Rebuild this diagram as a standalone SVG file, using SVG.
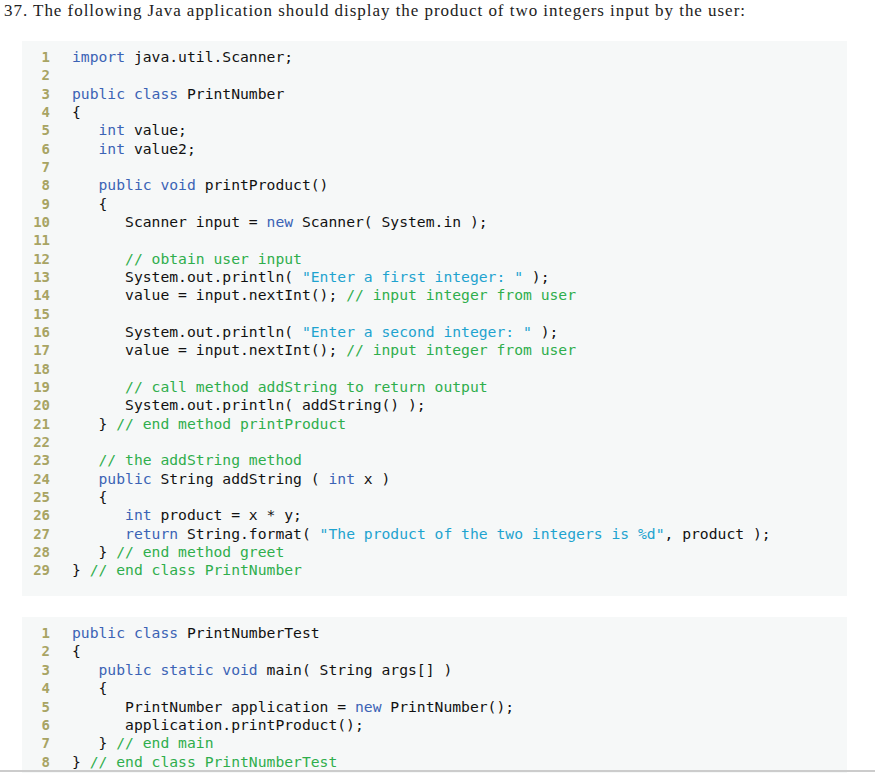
<svg xmlns="http://www.w3.org/2000/svg" width="875" height="773" viewBox="0 0 875 773">
<style>
.t{font-family:"Liberation Serif",serif;font-size:17px;fill:#222}
.c{font-family:"DejaVu Sans Mono","Liberation Mono",monospace;font-size:14.7px;fill:#111;white-space:pre}
.n{font-family:"DejaVu Sans Mono",monospace;font-size:14px;font-weight:bold;fill:#a8a464;text-anchor:end}
.k{fill:#3b63b5}.s{fill:#1ea3cf}.m{fill:#2fae4c}
</style>
<rect width="875" height="773" fill="#fff"/>
<text class="t" x="4" y="16" textLength="741" lengthAdjust="spacing">37.  The following Java application should display the product of two integers input by the user:</text>
<rect x="22" y="41" width="825" height="555" fill="#f6f8f8"/>
<rect x="22" y="617" width="825" height="156" fill="#f6f8f8"/>
<line x1="0" y1="771" x2="875" y2="771" stroke="#ccc" stroke-width="2"/>
<g id="code1" xml:space="preserve">
<g class="n">
<text x="50" y="62">1</text><text x="50" y="80.3">2</text><text x="50" y="98.7">3</text><text x="50" y="117">4</text><text x="50" y="135.3">5</text><text x="50" y="153.7">6</text><text x="50" y="172">7</text><text x="50" y="190.3">8</text><text x="50" y="208.7">9</text><text x="50" y="227">10</text><text x="50" y="245.3">11</text><text x="50" y="263.7">12</text><text x="50" y="282">13</text><text x="50" y="300.3">14</text><text x="50" y="318.7">15</text><text x="50" y="337">16</text><text x="50" y="355.3">17</text><text x="50" y="373.7">18</text><text x="50" y="392">19</text><text x="50" y="410.3">20</text><text x="50" y="428.7">21</text><text x="50" y="447">22</text><text x="50" y="465.3">23</text><text x="50" y="483.7">24</text><text x="50" y="502">25</text><text x="50" y="520.3">26</text><text x="50" y="538.7">27</text><text x="50" y="557">28</text><text x="50" y="575.3">29</text>
</g>
<text class="c" x="72" y="62"><tspan class="k">import</tspan> java.util.Scanner;</text>
<text class="c" x="72" y="98.7"><tspan class="k">public class</tspan> PrintNumber</text>
<text class="c" x="72" y="117">{</text>
<text class="c" x="72" y="135.3">   <tspan class="k">int</tspan> value;</text>
<text class="c" x="72" y="153.7">   <tspan class="k">int</tspan> value2;</text>
<text class="c" x="72" y="190.3">   <tspan class="k">public void</tspan> printProduct()</text>
<text class="c" x="72" y="208.7">   {</text>
<text class="c" x="72" y="227">      Scanner input = <tspan class="k">new</tspan> Scanner( System.in );</text>
<text class="c" x="72" y="263.7">      <tspan class="m">// obtain user input</tspan></text>
<text class="c" x="72" y="282">      System.out.println( <tspan class="s">"Enter a first integer: "</tspan> );</text>
<text class="c" x="72" y="300.3">      value = input.nextInt(); <tspan class="m">// input integer from user</tspan></text>
<text class="c" x="72" y="337">      System.out.println( <tspan class="s">"Enter a second integer: "</tspan> );</text>
<text class="c" x="72" y="355.3">      value = input.nextInt(); <tspan class="m">// input integer from user</tspan></text>
<text class="c" x="72" y="392">      <tspan class="m">// call method addString to return output</tspan></text>
<text class="c" x="72" y="410.3">      System.out.println( addString() );</text>
<text class="c" x="72" y="428.7">   } <tspan class="m">// end method printProduct</tspan></text>
<text class="c" x="72" y="465.3">   <tspan class="m">// the addString method</tspan></text>
<text class="c" x="72" y="483.7">   <tspan class="k">public</tspan> String addString ( <tspan class="k">int</tspan> x )</text>
<text class="c" x="72" y="502">   {</text>
<text class="c" x="72" y="520.3">      <tspan class="k">int</tspan> product = x * y;</text>
<text class="c" x="72" y="538.7">      <tspan class="k">return</tspan> String.format( <tspan class="s">"The product of the two integers is %d"</tspan>, product );</text>
<text class="c" x="72" y="557">   } <tspan class="m">// end method greet</tspan></text>
<text class="c" x="72" y="575.3">} <tspan class="m">// end class PrintNumber</tspan></text>
</g>
<g id="code2" xml:space="preserve">
<g class="n">
<text x="50" y="638">1</text><text x="50" y="656.4">2</text><text x="50" y="674.8">3</text><text x="50" y="693.2">4</text><text x="50" y="711.6">5</text><text x="50" y="730">6</text><text x="50" y="748.4">7</text><text x="50" y="766.8">8</text>
</g>
<text class="c" x="72" y="638"><tspan class="k">public class</tspan> PrintNumberTest</text>
<text class="c" x="72" y="656.4">{</text>
<text class="c" x="72" y="674.8">   <tspan class="k">public static void</tspan> main( String args[] )</text>
<text class="c" x="72" y="693.2">   {</text>
<text class="c" x="72" y="711.6">      PrintNumber application = <tspan class="k">new</tspan> PrintNumber();</text>
<text class="c" x="72" y="730">      application.printProduct();</text>
<text class="c" x="72" y="748.4">   } <tspan class="m">// end main</tspan></text>
<text class="c" x="72" y="766.8">} <tspan class="m">// end class PrintNumberTest</tspan></text>
</g>
</svg>
